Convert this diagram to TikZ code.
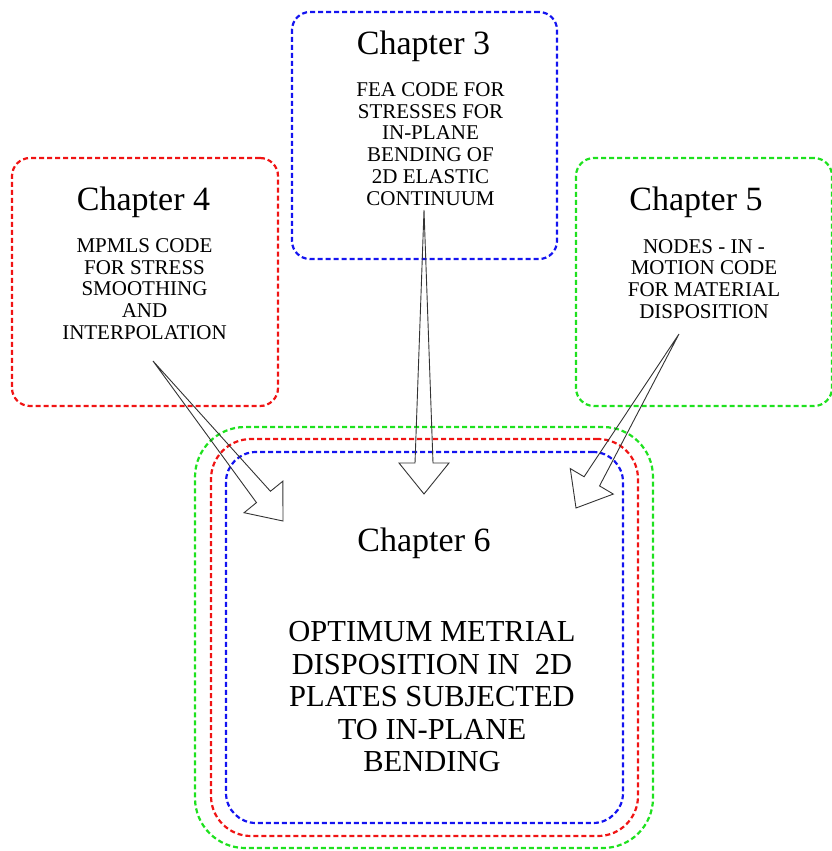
\documentclass[tikz,border=0pt]{standalone}
\usepackage{fontspec}
\setmainfont{Liberation Serif}
\usetikzlibrary{calc}
\definecolor{frameblue}{RGB}{20,20,240}
\definecolor{framered}{RGB}{240,20,20}
\definecolor{framegreen}{RGB}{30,225,30}
\tikzset{
  frame/.style={draw, dash pattern=on 5pt off 3pt, line width=2.2pt,
    rounded corners=18pt, inner sep=0pt, rectangle},
  heading/.style={font=\fontsize{34}{36}\selectfont, anchor=base, inner sep=0pt},
  body/.style={font=\fontsize{21}{21.8}\selectfont, align=center, inner sep=0pt},
  bigbody/.style={font=\fontsize{30.5}{32.5}\selectfont, align=center, inner sep=0pt},
  wedge/.style={draw=black!80, line width=0.9pt, line join=miter},
}
% open block arrow: a narrow wedge shaft from #1 ending in a triangular head at #2
\newcommand\wedgearrow[2]{%
  \coordinate (hb) at ($(#2)!31pt!(#1)$);
  \draw[wedge] (#1) -- ($(hb)!9pt!90:(#2)$) -- ($(hb)!25pt!90:(#2)$) -- (#2)
    -- ($(hb)!25pt!-90:(#2)$) -- ($(hb)!9pt!-90:(#2)$) -- cycle;
}
\begin{document}
\begin{tikzpicture}[x=1pt,y=-1pt]
\useasboundingbox (0,0) rectangle (831,851);

% source chapters
\node[frame, draw=frameblue, minimum width=265pt, minimum height=247pt] (ch3) at (424.5,135.5) {};
\node[frame, draw=framered, minimum width=266pt, minimum height=248pt] (ch4) at (145,282) {};
\node[frame, draw=framegreen, minimum width=256pt, minimum height=248pt] (ch5) at (704,282) {};

\node[heading] (h3) at (423.5,55) {Chapter 3};
\node[body] (b3) at (430.5,144) {FEA CODE FOR\\STRESSES FOR\\IN-PLANE\\BENDING OF\\2D ELASTIC\\CONTINUUM};

\node[heading] (h4) at (143.5,210) {Chapter 4};
\node[body] (b4) at (144.5,289) {MPMLS CODE\\FOR STRESS\\SMOOTHING\\AND\\INTERPOLATION};

\node[heading] (h5) at (696,210) {Chapter 5};
\node[body] (b5) at (704,279) {NODES - IN -\\MOTION CODE\\FOR MATERIAL\\DISPOSITION};

% target chapter with triple frame
\node[frame, draw=framegreen, rounded corners=50pt, minimum width=458pt, minimum height=421pt] (ch6) at (424,637.5) {};
\node[frame, draw=framered, rounded corners=40pt, minimum width=427pt, minimum height=397pt] (ch6r) at (424.5,637.5) {};
\node[frame, draw=frameblue, rounded corners=30pt, minimum width=397pt, minimum height=371pt] (ch6b) at (424.5,637.5) {};

\node[heading] (h6) at (424,551) {Chapter 6};
\node[bigbody] (b6) at (432,697) {OPTIMUM METRIAL\\DISPOSITION IN\ \ 2D\\PLATES SUBJECTED\\TO IN-PLANE\\BENDING};

% arrows into chapter 6
\coordinate (s3) at (424,210);
\coordinate (t3) at (424,494);
\coordinate (s4) at (153,361);
\coordinate (t4) at (283,521);
\coordinate (s5) at (679,334);
\coordinate (t5) at (576,508);
\wedgearrow{s3}{t3}
\wedgearrow{s4}{t4}
\wedgearrow{s5}{t5}
\end{tikzpicture}
\end{document}
